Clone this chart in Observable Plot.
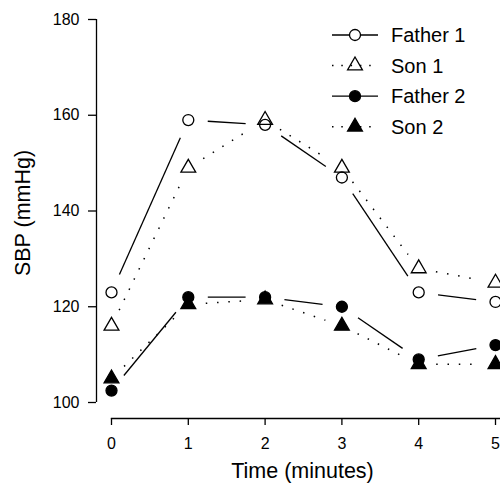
<!DOCTYPE html>
<html><head><meta charset="utf-8">
<script src="https://cdn.jsdelivr.net/npm/d3@7"></script>
<script src="https://cdn.jsdelivr.net/npm/@observablehq/plot@0.6"></script>
<style>
body{margin:0;background:#fff;}
#chart{position:relative;width:500px;height:486px;font-family:"Liberation Sans",Arial,Helvetica,sans-serif;color:#000;}
#legend{position:absolute;left:0;top:0;pointer-events:none;}
</style></head><body><div id="chart"></div>
<script>
const times = [0, 1, 2, 3, 4, 5];
const father1 = [123, 159, 158, 147, 123, 121];
const son1 = [116, 149, 159, 149, 128, 125];
const father2 = [102.5, 122, 122, 120, 109, 112];
const son2 = [105, 120.5, 121.5, 116, 108, 108];
const seriesNames = ["Father 1", "Son 1", "Father 2", "Son 2"];
const seriesValues = [father1, son1, father2, son2];
const seriesSymbols = ["circle", "triangle", "circle", "triangle"];
const seriesFilled = [false, false, true, true];
const seriesDotted = [false, true, false, true];
const yTicks = [100, 120, 140, 160, 180];
const xTicks = [0, 1, 2, 3, 4, 5];
const xTitle = "Time (minutes)";
const yTitle = "SBP (mmHg)";

const points = seriesNames.flatMap((name, i) => times.map((t, j) => ({series: name, time: t, sbp: seriesValues[i][j]})));
const segments = seriesNames.flatMap((name, i) => times.slice(1).map((t, j) => ({
  series: name, x1: times[j], y1: seriesValues[i][j], x2: t, y2: seriesValues[i][j + 1], dotted: seriesDotted[i]
})));

const lineW = 1.3;
const marks = [
  Plot.ruleX([xTicks[0]], {y1: yTicks[0], y2: yTicks[yTicks.length - 1], dx: -15, stroke: "black", strokeWidth: lineW}),
  Plot.frame({anchor: "bottom", insetLeft: 15, stroke: "black", strokeWidth: lineW}),
  Plot.axisY({ticks: yTicks, tickFormat: "d", tickSize: 8, tickPadding: 9, fontSize: 16, label: null, strokeWidth: lineW, stroke: "black", fill: "black"}),
  Plot.axisX({ticks: xTicks, tickFormat: "d", tickSize: 7, tickPadding: 12, fontSize: 16, label: null, strokeWidth: lineW, stroke: "black", fill: "black"}),
  Plot.text([xTitle], {frameAnchor: "bottom", textAnchor: "middle", lineAnchor: "middle", dx: 4, dy: 53, fontSize: 21.5, fill: "black"}),
  Plot.text([yTitle], {frameAnchor: "left", textAnchor: "middle", lineAnchor: "middle", rotate: -90, dx: -73, dy: -6, fontSize: 21.5, fill: "black"}),
  Plot.arrow(segments.filter(d => !d.dotted), {x1: "x1", y1: "y1", x2: "x2", y2: "y2", insetStart: 19.5, insetEnd: 19.5, headLength: 0, stroke: "black", strokeWidth: lineW, strokeLinecap: "butt"}),
  Plot.arrow(segments.filter(d => d.dotted), {x1: "x1", y1: "y1", x2: "x2", y2: "y2", insetStart: 17.5, insetEnd: 17.5, headLength: 0, stroke: "black", strokeWidth: 1.5, strokeDasharray: "1.5 9.8", strokeLinecap: "butt"})
];
[0, 2, 1, 3].forEach(i => {
  marks.push(Plot.dot(points.filter(d => d.series === seriesNames[i]), {
    x: "time", y: "sbp", symbol: seriesSymbols[i], r: 5.5,
    fill: seriesFilled[i] ? "black" : "none", stroke: "black", strokeWidth: lineW
  }));
});

const chart = Plot.plot({
  width: 500, height: 486,
  marginLeft: 96, marginRight: 0, marginTop: 19, marginBottom: 68,
  x: {domain: [xTicks[0], xTicks[xTicks.length - 1]], insetLeft: 15, insetRight: 5},
  y: {domain: [yTicks[0], yTicks[yTicks.length - 1]], insetBottom: 16},
  style: {fontFamily: '"Liberation Sans", Arial, sans-serif', color: "black", background: "white"},
  marks
});
const root = document.getElementById("chart");
root.appendChild(chart);

// legend
const lg = d3.select(root).append("svg").attr("id", "legend").attr("width", 500).attr("height", 486);
seriesNames.forEach((name, i) => {
  const cy = 35 + i * 30.6;
  const g = lg.append("g");
  g.append("line").attr("x1", 332).attr("x2", 378).attr("y1", cy).attr("y2", cy)
    .attr("stroke", "black").attr("stroke-width", seriesDotted[i] ? 1.5 : lineW)
    .attr("stroke-dasharray", seriesDotted[i] ? "1.5 7.8" : null);
  const sym = seriesSymbols[i] === "circle" ? d3.symbolCircle : d3.symbolTriangle;
  g.append("path").attr("d", d3.symbol(sym, Math.PI * 5.5 * 5.5)())
    .attr("transform", `translate(355,${cy})`)
    .attr("fill", seriesFilled[i] ? "black" : (seriesDotted[i] ? "none" : "white"))
    .attr("stroke", "black").attr("stroke-width", lineW);
  g.append("text").attr("x", 391).attr("y", cy).attr("dy", "0.35em")
    .attr("font-size", 20).attr("font-family", '"Liberation Sans", Arial, sans-serif')
    .attr("fill", "black").text(name);
});
</script>
</body></html>
